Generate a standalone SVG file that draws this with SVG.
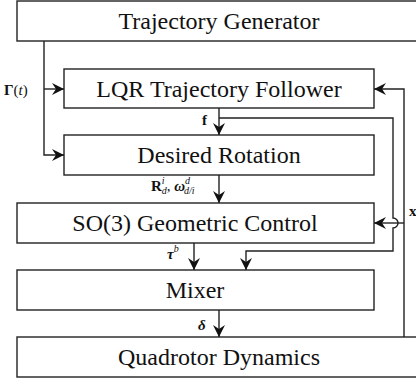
<svg xmlns="http://www.w3.org/2000/svg" width="416" height="383" viewBox="0 0 416 383">
<style>
.box{fill:#fff;stroke:#222;stroke-width:1.4}
.t{font-size:24px;fill:#111;text-anchor:middle}
.c{fill:none;stroke:#222;stroke-width:1.4}
.l{fill:#111}
</style>
<defs>
<marker id="ah" markerUnits="userSpaceOnUse" markerWidth="14" markerHeight="14" refX="12" refY="6" orient="auto">
<path d="M0,0 L12,6 L0,12 L4,6 z" fill="#111"/>
</marker>
</defs>
<rect width="416" height="383" fill="#fff"/>
<g font-family="'Liberation Serif', 'Times New Roman', 'DejaVu Serif', serif">
<g id="trajectory-generator"><rect class="box" x="17" y="1" width="410" height="40"/><text class="t" x="219" y="29">Trajectory Generator</text></g>
<g id="lqr"><rect class="box" x="64" y="69" width="310" height="39"/><text class="t" x="219" y="97">LQR Trajectory Follower</text></g>
<g id="desired-rotation"><rect class="box" x="64" y="135" width="310" height="40"/><text class="t" x="219" y="163">Desired Rotation</text></g>
<g id="so3"><rect class="box" x="17" y="203" width="357" height="40"/><text class="t" x="195" y="231">SO(3) Geometric Control</text></g>
<g id="mixer"><rect class="box" x="17" y="270" width="357" height="40"/><text class="t" x="195" y="298">Mixer</text></g>
<g id="quadrotor-dynamics"><rect class="box" x="17" y="337" width="410" height="40"/><text class="t" x="219" y="365">Quadrotor Dynamics</text></g>
<g id="connectors">
<path class="c" d="M44,41 V155 H64" marker-end="url(#ah)"/>
<path class="c" d="M44,89 H64" marker-end="url(#ah)"/>
<path class="c" d="M219,108 V135" marker-end="url(#ah)"/>
<path class="c" d="M219,118 H393 V218 A5,5 0 0 1 393,228 V251 H246 V270" marker-end="url(#ah)"/>
<path class="c" d="M219,175 V203" marker-end="url(#ah)"/>
<path class="c" d="M194,243 V270" marker-end="url(#ah)"/>
<path class="c" d="M219,310 V337" marker-end="url(#ah)"/>
<path class="c" d="M404,337 V89 H374" marker-end="url(#ah)"/>
<path class="c" d="M404,223 H374" marker-end="url(#ah)"/>
</g>
<g id="labels">
<text class="l" x="4" y="95" font-size="15"><tspan font-weight="bold">Γ</tspan>(<tspan font-style="italic">t</tspan>)</text>
<text class="l" x="202" y="125" font-size="15" font-weight="bold">f</text>
<text class="l" x="151" y="191" font-size="15"><tspan font-weight="bold">R</tspan><tspan font-size="10" font-style="italic" dy="-7">i</tspan><tspan font-size="10" font-style="italic" dx="-3" dy="10">d</tspan><tspan dy="-3">, </tspan><tspan font-weight="bold" font-style="italic">ω</tspan><tspan font-size="10" font-style="italic" dy="-7">d</tspan><tspan font-size="10" font-style="italic" dx="-6" dy="10">d/i</tspan></text>
<text class="l" x="167" y="259" font-size="15"><tspan font-weight="bold" font-style="italic">τ</tspan><tspan font-size="10" font-style="italic" dy="-7">b</tspan></text>
<text class="l" x="198" y="330" font-size="15" font-style="italic" font-weight="bold">δ</text>
<text class="l" x="409" y="216" font-size="15" font-weight="bold">x</text>
</g>
</g>
</svg>
